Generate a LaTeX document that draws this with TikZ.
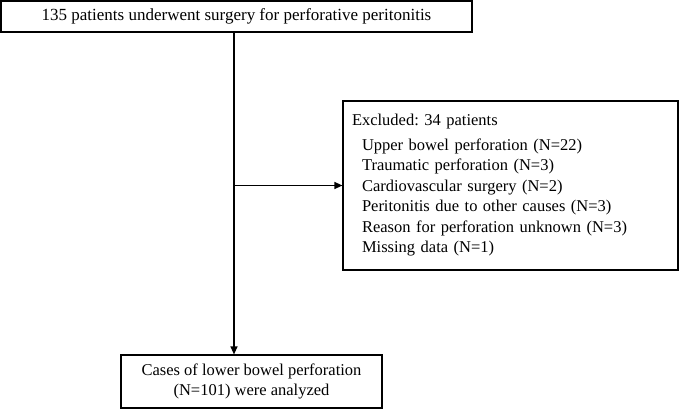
\documentclass[tikz,border=0pt]{standalone}
\usepackage{fontspec}
\setmainfont{Liberation Serif}
\usetikzlibrary{arrows.meta}
\frenchspacing
\begin{document}
\begin{tikzpicture}[x=1pt,y=-1pt,line width=1.2pt,
  box/.style={draw, shape=rectangle, inner sep=0pt, font=\fontsize{16.5}{20.5}\selectfont},
  flow/.style={-{Triangle[length=8pt,width=7pt]}}]
\useasboundingbox (0,0) rectangle (680,410);
\draw (236.5,16.5) node[box, minimum width=471pt, minimum height=31pt, font=\fontsize{17}{20.5}\selectfont] (top) {135 patients underwent surgery for perforative peritonitis};
\draw (510.5,185.5) node[box, minimum width=335pt, minimum height=169pt, text width=317pt, align=left] (excl) {Excluded: 34 patients\\[4pt]
\hspace*{10pt}Upper bowel perforation (N=22)\\
\hspace*{10pt}Traumatic perforation (N=3)\\
\hspace*{10pt}Cardiovascular surgery (N=2)\\
\hspace*{10pt}Peritonitis due to other causes (N=3)\\
\hspace*{10pt}Reason for perforation unknown (N=3)\\
\hspace*{10pt}Missing data (N=1)};
\draw (251.5,381.5) node[box, minimum width=261pt, minimum height=53pt, align=center] (bot) {Cases of lower bowel perforation\\(N=101) were analyzed};
\coordinate (split) at (234,185.5);
\draw[flow] (top.south -| split) -- (bot.north -| split);
\draw[flow] (split) -- (excl.west |- split);
\end{tikzpicture}
\end{document}
